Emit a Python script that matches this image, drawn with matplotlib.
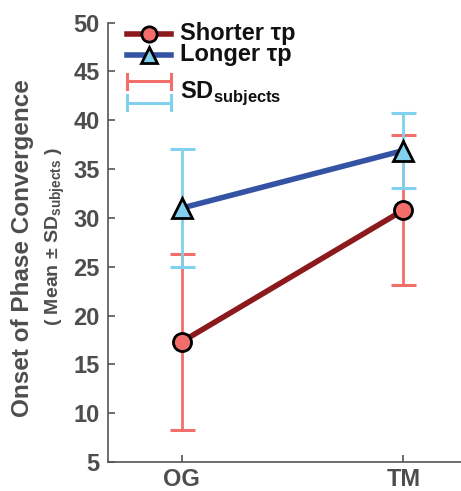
import matplotlib
matplotlib.use("Agg")
import matplotlib.pyplot as plt
from matplotlib.lines import Line2D

plt.rcParams["font.family"] = ["Liberation Sans", "DejaVu Sans"]
plt.rcParams["font.weight"] = "bold"
plt.rcParams["mathtext.fontset"] = "custom"
plt.rcParams["mathtext.rm"] = "Liberation Sans:bold"
plt.rcParams["mathtext.bf"] = "Liberation Sans:bold"
plt.rcParams["mathtext.sf"] = "Liberation Sans"

# data
conditions = ["OG", "TM"]
shorter_mean = [17.3, 30.8]
shorter_sd = [9.05, 7.7]
longer_mean = [31.0, 36.9]
longer_sd = [6.05, 3.8]
yticks = [5, 10, 15, 20, 25, 30, 35, 40, 45, 50]

red_dark = "#8C1A1D"
red_light = "#F26E6A"
blue_dark = "#3553A4"
cyan = "#80D0EE"
grey = "#4D4D4D"

fig = plt.figure(figsize=(4.61, 4.91), dpi=100)
ax = fig.add_axes([0.234, 0.059, 0.80, 0.895])

x = list(range(1, len(conditions) + 1))

ax.errorbar(x, shorter_mean, yerr=shorter_sd, fmt="none", ecolor=red_light,
            elinewidth=2, capsize=9, capthick=2.2, zorder=2)
ax.errorbar(x, longer_mean, yerr=longer_sd, fmt="none", ecolor=cyan,
            elinewidth=2, capsize=9, capthick=2.2, zorder=3)
ax.plot(x, shorter_mean, color=red_dark, lw=4, marker="o", ms=13,
        mfc=red_light, mec="black", mew=2, zorder=4)
ax.plot(x, longer_mean, color=blue_dark, lw=4, marker="^", ms=15,
        mfc=cyan, mec="black", mew=2, zorder=5)

ax.set_xlim(0.668, 2.33)
ax.set_ylim(5, 50)
ax.set_xticks(x)
ax.set_xticklabels(conditions)
ax.set_yticks(yticks)

for side in ["top", "right"]:
    ax.spines[side].set_visible(False)
for side in ["left", "bottom"]:
    ax.spines[side].set_color("#555555")
    ax.spines[side].set_linewidth(1.2)
ax.tick_params(direction="in", length=5, width=1.2, color="#555555",
               labelcolor=grey, labelsize=17, pad=6)
ax.tick_params(axis="x", pad=4)
for lab in ax.get_xticklabels() + ax.get_yticklabels():
    lab.set_fontweight("bold")

# two-line y label
fig.text(0.048, 0.495, "Onset of Phase Convergence", rotation=90,
         ha="center", va="center", fontsize=17.5, color=grey, fontweight="bold")
fig.text(0.12, 0.519, r"( Mean $\mathsf{\pm}$ SD$_{\mathrm{subjects}}$ )", rotation=90,
         ha="center", va="center", fontsize=14, color=grey, fontweight="bold")

# hand-built legend in axes coordinates
lx0, lx1, ltx = 0.052, 0.172, 0.196
tr = ax.transAxes
ax.add_line(Line2D([lx0, lx1], [0.975, 0.975], color=red_dark, lw=4,
                   transform=tr, clip_on=False))
ax.add_line(Line2D([(lx0 + lx1) / 2], [0.975], marker="o", ms=11, mfc=red_light,
                   mec="black", mew=2, transform=tr, clip_on=False))
ax.add_line(Line2D([lx0, lx1], [0.927, 0.927], color=blue_dark, lw=4,
                   transform=tr, clip_on=False))
ax.add_line(Line2D([(lx0 + lx1) / 2], [0.927], marker="^", ms=12, mfc=cyan,
                   mec="black", mew=2, transform=tr, clip_on=False))
for yy, col in [(0.866, red_light), (0.818, cyan)]:
    ax.add_line(Line2D([lx0, lx1], [yy, yy], color=col, lw=2.2,
                       transform=tr, clip_on=False))
    for xx in (lx0, lx1):
        ax.add_line(Line2D([xx, xx], [yy - 0.018, yy + 0.018], color=col,
                           lw=2.2, transform=tr, clip_on=False))
ax.text(ltx, 0.975, "Shorter τp", transform=tr, va="center", ha="left",
        fontsize=17, color="#111111", fontweight="bold")
ax.text(ltx, 0.927, "Longer τp", transform=tr, va="center", ha="left",
        fontsize=17, color="#111111", fontweight="bold")
ax.text(ltx, 0.84, r"SD$_{\mathrm{subjects}}$", transform=tr, va="center",
        ha="left", fontsize=17, color="#111111", fontweight="bold")

fig.savefig("out.png", dpi=100)
